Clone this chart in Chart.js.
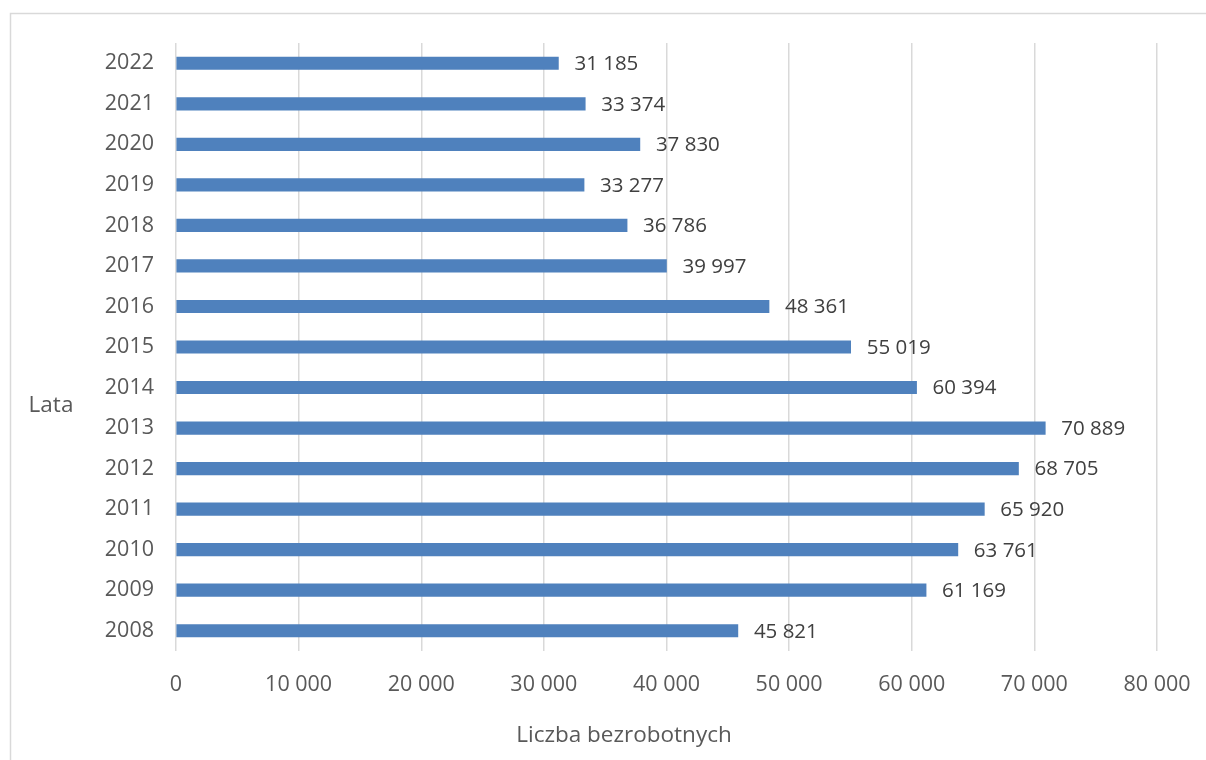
<!DOCTYPE html>
<html>
<head>
<meta charset="utf-8">
<script src="https://cdn.jsdelivr.net/npm/chart.js@4/dist/chart.umd.min.js"></script>
<style>
  html, body { margin: 0; padding: 0; background: #ffffff; }
  #wrap { position: relative; width: 1206px; height: 760px; }
</style>
</head>
<body>
<div id="wrap"><canvas id="chart" width="1206" height="760"></canvas></div>
<script>
// Liczba bezrobotnych w latach 2008–2022
const years = ['2008','2009','2010','2011','2012','2013','2014','2015','2016','2017','2018','2019','2020','2021','2022'];
const unemployed = [45821, 61169, 63761, 65920, 68705, 70889, 60394, 55019, 48361, 39997, 36786, 33277, 37830, 33374, 31185];
const xTicks = [0, 10000, 20000, 30000, 40000, 50000, 60000, 70000, 80000];
const xTitle = 'Liczba bezrobotnych';
const yTitle = 'Lata';

const FONT = '"Open Sans", "DejaVu Sans", sans-serif';
const TEXT = '#595959';

function fmt(n) {
  return String(n).replace(/\B(?=(\d{3})+(?!\d))/g, ' ');
}

// frame, axis titles and value labels at the end of each bar
const decor = {
  id: 'decor',
  beforeDraw(chart) {
    const ctx = chart.ctx;
    ctx.save();
    ctx.strokeStyle = '#d9d9d9';
    ctx.lineWidth = 1.5;
    ctx.strokeRect(10.5, 13.5, 1220, 780);
    ctx.restore();
  },
  afterDatasetsDraw(chart) {
    const ctx = chart.ctx;
    const meta = chart.getDatasetMeta(0);
    ctx.save();
    ctx.font = '20.5px ' + FONT;
    ctx.fillStyle = '#404040';
    ctx.textBaseline = 'middle';
    ctx.textAlign = 'left';
    meta.data.forEach((bar, i) => {
      ctx.fillText(fmt(chart.data.datasets[0].data[i]), bar.x + 16, bar.y + 1);
    });
    ctx.fillStyle = TEXT;
    ctx.textAlign = 'center';
    ctx.font = '22.5px ' + FONT;
    ctx.fillText(xTitle, 624, 736);
    ctx.fillText(yTitle, 51, 406);
    ctx.restore();
  }
};

new Chart(document.getElementById('chart'), {
  type: 'bar',
  data: {
    labels: years,
    datasets: [{
      data: unemployed,
      backgroundColor: '#4f81bd',
      borderWidth: 0,
      barThickness: 12.5
    }]
  },
  options: {
    indexAxis: 'y',
    responsive: false,
    animation: false,
    layout: { padding: { left: 0, right: 49, top: 43, bottom: 0 } },
    plugins: { legend: { display: false }, tooltip: { enabled: false } },
    scales: {
      x: {
        min: 0,
        max: 80000,
        afterBuildTicks(scale) { scale.ticks = xTicks.map(v => ({ value: v })); },
        afterFit(scale) {
          scale.height = 109;
          scale.paddingLeft = 0;
          scale.paddingRight = 0;
        },
        grid: { color: '#d9d9d9', lineWidth: 1.5, drawTicks: false },
        border: { display: false },
        ticks: {
          padding: 21,
          color: TEXT,
          font: { family: FONT, size: 21.5 },
          callback: v => fmt(v)
        }
      },
      y: {
        reverse: true,
        afterFit(scale) {
          scale.width = 176;
          scale.paddingTop = 0;
          scale.paddingBottom = 0;
        },
        grid: { display: false, drawTicks: false },
        border: { display: false },
        ticks: {
          padding: 22,
          color: TEXT,
          font: { family: FONT, size: 21.5 }
        }
      }
    }
  },
  plugins: [decor]
});
</script>
</body>
</html>
